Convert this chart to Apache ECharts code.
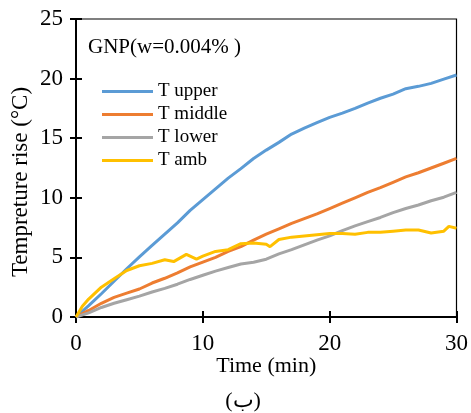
<!DOCTYPE html>
<html>
<head>
<meta charset="utf-8">
<script src="https://cdn.jsdelivr.net/npm/echarts@6/dist/echarts.min.js"></script>
<style>html,body{margin:0;padding:0;background:#fff;}#c{width:471px;height:413px;}</style>
</head>
<body>
<div id="c"></div>
<script>
var timeMin = [0,1,2,3,4,5,6,7,8,9,10,11,12,13,14,15,16,17,18,19,20,21,22,23,24,25,26,27,28,29,30];
var tUpper  = [0,0.95,1.95,3.0,4.05,5.05,6.0,6.95,7.9,8.95,9.85,10.75,11.65,12.45,13.3,14.0,14.65,15.35,15.85,16.3,16.75,17.1,17.5,17.95,18.35,18.7,19.15,19.35,19.6,19.95,20.3];
var tMiddle = [0,0.55,1.15,1.65,2.0,2.35,2.85,3.25,3.7,4.2,4.6,5.0,5.5,5.9,6.45,6.95,7.4,7.85,8.25,8.65,9.1,9.55,10.0,10.45,10.85,11.3,11.75,12.1,12.5,12.9,13.3];
var tLower  = [0,0.35,0.8,1.15,1.45,1.75,2.1,2.4,2.75,3.15,3.5,3.85,4.15,4.45,4.6,4.85,5.3,5.65,6.05,6.45,6.8,7.25,7.65,8.0,8.35,8.75,9.1,9.4,9.75,10.05,10.45];
var ambTime = [0,0.5,1,2,3,4,5,6,7,7.7,8.7,9.5,10,11,12,13,14,15,15.3,16,17,18,19,20,21,22,23,24,25,26,27,28,29,29.4,30];
var tAmb    = [0,0.9,1.5,2.5,3.2,3.9,4.3,4.5,4.8,4.65,5.25,4.85,5.1,5.5,5.65,6.15,6.2,6.1,5.9,6.5,6.7,6.8,6.9,7.0,7.0,6.95,7.1,7.1,7.2,7.3,7.3,7.05,7.2,7.6,7.45];
var seriesNames = ['T upper','T middle','T lower','T amb'];
var seriesColors = ['#5B9BD5','#ED7D31','#A5A5A5','#FFC000'];

function pairs(xs, ys){ return xs.map(function(x,i){return [x, ys[i]];}); }

var font = '"Liberation Serif","Times New Roman",serif';
var chart = echarts.init(document.getElementById('c'));
var mkLine = function(i, xs, ys){
  return {name:seriesNames[i], type:'line', data:pairs(xs,ys), symbol:'none', showSymbol:false, smooth:false,
    lineStyle:{color:seriesColors[i], width:3}, itemStyle:{color:seriesColors[i]}, z:3};
};
var tickStyle = {color:'#000', width:2};
chart.setOption({
  animation:false,
  backgroundColor:'#fff',
  grid:{left:76, right:14, top:19, bottom:96, show:true, borderColor:'#000', borderWidth:1.2},
  title:{text:'GNP(w=0.004% )', left:88, top:37, padding:0, textStyle:{fontFamily:font, fontSize:21, fontWeight:'normal', color:'#000'}},
  legend:{orient:'vertical', left:102, top:82, padding:0, itemWidth:51, itemHeight:3, itemGap:4, icon:'rect',
    textStyle:{fontFamily:font, fontSize:19, lineHeight:19, color:'#000'},
    data:seriesNames},
  xAxis:[{type:'value', min:0, max:30, interval:10,
    axisLine:{show:true, onZero:false, lineStyle:{color:'#000', width:2}},
    axisTick:{show:true, length:6, lineStyle:tickStyle},
    splitLine:{show:false},
    axisLabel:{fontFamily:font, fontSize:23, color:'#000', margin:15},
    name:'Time (min)', nameLocation:'middle', nameGap:38, nameMoveOverlap:false,
    nameTextStyle:{fontFamily:font, fontSize:22, color:'#000', verticalAlign:'top'}},
   {type:'value', min:0, max:30, interval:10, position:'bottom', offset:0,
    axisLine:{show:true, onZero:false, lineStyle:{color:'#000', width:2}}, axisTick:{show:true, inside:true, length:6, lineStyle:tickStyle},
    axisLabel:{show:false}, splitLine:{show:false}}],
  yAxis:[{type:'value', min:0, max:25, interval:5,
    axisLine:{show:true, onZero:false, lineStyle:{color:'#000', width:2}},
    axisTick:{show:true, length:6, lineStyle:tickStyle},
    splitLine:{show:false},
    axisLabel:{fontFamily:font, fontSize:23, color:'#000', margin:13}},
   {type:'value', min:0, max:25, interval:5, position:'left', offset:0,
    axisLine:{show:true, onZero:false, lineStyle:{color:'#000', width:2}}, axisTick:{show:true, inside:true, length:6, lineStyle:tickStyle},
    axisLabel:{show:false}, splitLine:{show:false}}],
  graphic:[
    {type:'text', x:21, y:182, rotation:Math.PI/2, style:{text:'Tempreture rise (°C)', font:'23px ' + font, fill:'#000', align:'center', verticalAlign:'middle'}},
    {type:'text', x:243, y:401, style:{text:'(ب)', font:'22px ' + font, fill:'#000', align:'center', verticalAlign:'middle'}}
  ],
  series:[
    mkLine(0, timeMin, tUpper),
    mkLine(1, timeMin, tMiddle),
    mkLine(2, timeMin, tLower),
    mkLine(3, ambTime, tAmb)
  ]
});
</script>
</body>
</html>
